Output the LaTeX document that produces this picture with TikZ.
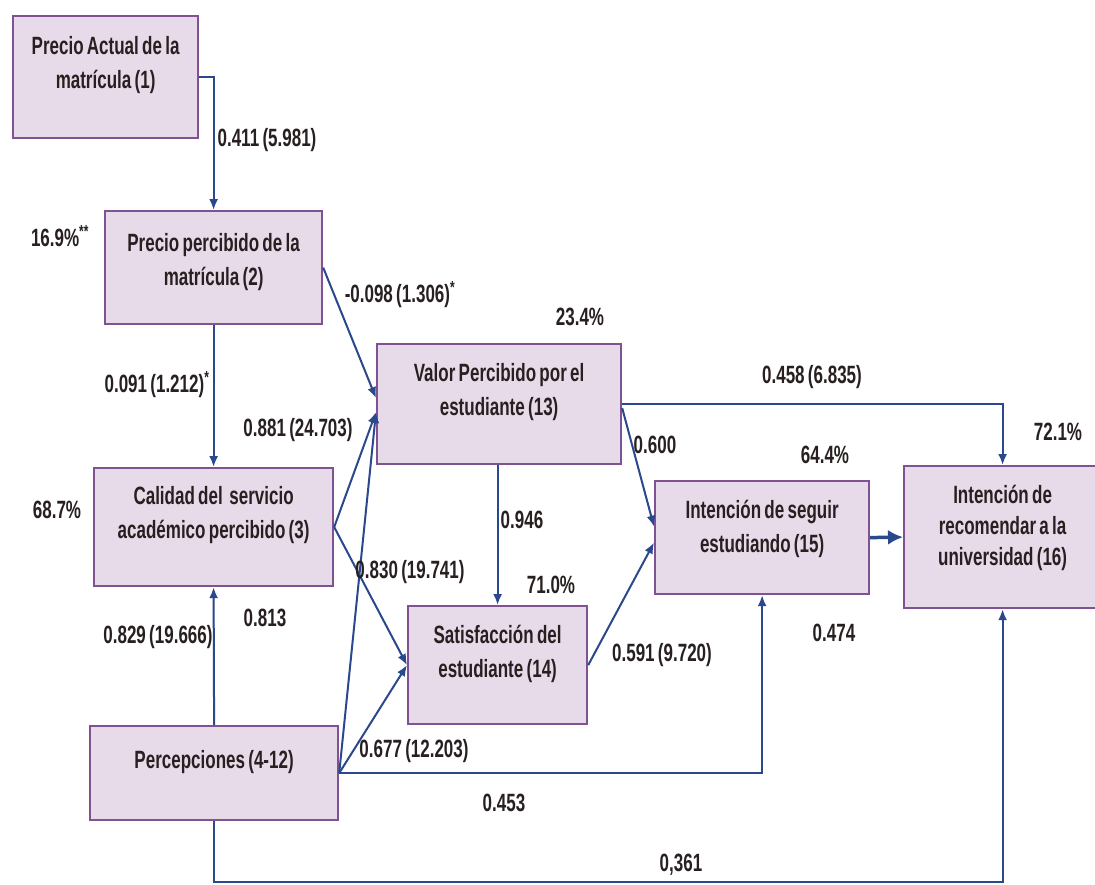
\documentclass[tikz,border=0pt]{standalone}
\usepackage{fontspec}
\setmainfont{Liberation Sans}[FakeStretch=0.68,WordSpace=0.7]
\usetikzlibrary{arrows.meta}
\definecolor{boxfill}{RGB}{231,219,233}
\definecolor{boxline}{RGB}{128,82,148}
\definecolor{pathblue}{RGB}{42,72,140}
\definecolor{txt}{RGB}{40,32,32}

\begin{document}
\begin{tikzpicture}[x=1pt,y=-1pt,>={Latex[length=11pt,width=9pt]},
  every node/.style={font=\fontsize{25}{34}\selectfont\bfseries,text=txt},
  box/.style={draw=boxline,fill=boxfill,line width=2.2pt,inner sep=0pt,align=flush center,anchor=north west},
  path/.style={draw=pathblue,line width=2pt},
  coef/.style={inner sep=1pt}]
\fill[white] (0,0) rectangle (1095,884);
\useasboundingbox (0,0) rectangle (1095,884);
% constructs
\node[box,text width=185pt,text height=38pt,text depth=84pt] (b1) at (12,15) {Precio Actual de la\\matrícula (1)};
\node[box,text width=217pt,text height=40pt,text depth=73pt] (b2) at (104,210) {Precio percibido de la\\matrícula (2)};
\node[box,text width=239pt,text height=36pt,text depth=82pt] (b3) at (93,467) {Calidad del~ servicio\\académico percibido (3)};
\node[box,text width=248pt,text height=42pt,text depth=52pt] (b4) at (89,725) {Percepciones (4-12)};
\node[box,text width=244pt,text height=37pt,text depth=83pt] (b13) at (376,343) {Valor Percibido por el\\estudiante (13)};
\node[box,text width=179pt,text height=37pt,text depth=81pt] (b14) at (407,605) {Satisfacción del\\estudiante (14)};
\node[box,text width=214pt,text height=37pt,text depth=76pt] (b15) at (654,480) {Intención de seguir\\estudiando (15)};
\node[box,text width=197pt,text height=37pt,text depth=105pt,font=\fontsize{25}{31}\selectfont\bfseries] (b16) at (903,465) {Intención de\\recomendar a la\\universidad (16)};
\coordinate (cbot) at (0,882);
% paths
\draw[path,->] (b1.east) -| (b2.north);
\draw[path,->] (b2.east) -- ([yshift=6pt]b13.west);
\draw[path,->] (b2.south) -- (b3.north);
\draw[path,->] (b3.east) -- ([yshift=-8pt]b13.west);
\draw[path,->] (b3.east) -- (b14.west);
\draw[path,->] (b4.north) -- (b3.south);
\draw[path,->] (b4.east) -- ([yshift=-8pt]b13.west);
\draw[path,->] (b4.east) -- (b14.west);
\draw[path,->] (b4.east) -| (b15.south);
\draw[path,->] (b4.south) -- (b4.south |- cbot) -| (b16.south);
\draw[path,->] (b14.north |- b13.south) -- (b14.north);
\draw[path,->] (b13.east) -| (b16.north);
\draw[path,->] ([yshift=-4pt]b13.east) -- ([yshift=11pt]b15.west);
\draw[path,->] (b14.east) -- ([yshift=-5pt]b15.west);
\draw[path,line width=3.5pt,-{Latex[length=15pt,width=15pt]}] (b15.east) -- (b16.west);
% coefficients
\node[coef] (c1) at (267,140) {0.411 (5.981)};
\node[coef] (r2) at (60,236) {16.9\%\textsuperscript{**}};
\node[coef] (c2) at (400,295) {-0.098 (1.306)\textsuperscript{*}};
\node[coef] (c3) at (157,385) {0.091 (1.212)\textsuperscript{*}};
\node[coef] (c4) at (298,430) {0.881 (24.703)};
\node[coef] (r13) at (580,317) {23.4\%};
\node[coef] (c5) at (812,377) {0.458 (6.835)};
\node[coef] (r16) at (1058,432) {72.1\%};
\node[coef] (c6) at (655,445) {0.600};
\node[coef] (r15) at (825,455) {64.4\%};
\node[coef] (r3) at (57,510) {68.7\%};
\node[coef] (c7) at (522,520) {0.946};
\node[coef] (c8) at (410,572) {0.830 (19.741)};
\node[coef] (r14) at (551,585) {71.0\%};
\node[coef] (c9) at (265,618) {0.813};
\node[coef] (c10) at (158,637) {0.829 (19.666)};
\node[coef] (c11) at (834,633) {0.474};
\node[coef] (c12) at (662,655) {0.591 (9.720)};
\node[coef] (c13) at (414,751) {0.677 (12.203)};
\node[coef] (c14) at (504,803) {0.453};
\node[coef] (c15) at (681,865) {0,361};
\end{tikzpicture}
\end{document}
